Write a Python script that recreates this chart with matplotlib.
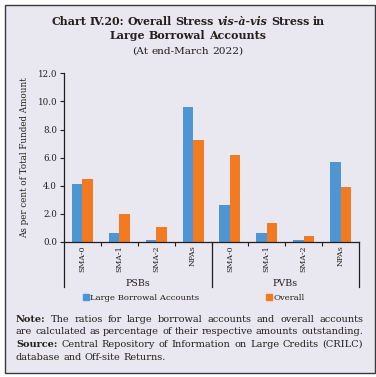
import matplotlib
matplotlib.use("Agg")
import matplotlib.pyplot as plt
from matplotlib.patches import Rectangle, Patch
from matplotlib.transforms import blended_transform_factory
import numpy as np

# data
categories = ['SMA-0', 'SMA-1', 'SMA-2', 'NPAs', 'SMA-0', 'SMA-1', 'SMA-2', 'NPAs']
groups = ['PSBs', 'PVBs']
large_borrowal = [4.12, 0.62, 0.14, 9.6, 2.6, 0.64, 0.17, 5.7]
overall = [4.5, 2.0, 1.09, 7.28, 6.2, 1.33, 0.4, 3.88]
yticks = [0, 2, 4, 6, 8, 10, 12]

blue = '#4e95d3'
orange = '#f27b21'
bg = '#e9e7ef'
ink = '#231f20'
serif = 'DejaVu Serif'

plt.rcParams['font.family'] = serif
plt.rcParams['text.color'] = ink

W, H = 376, 377
fig = plt.figure(figsize=(W / 100, H / 100), dpi=100, facecolor='white')
fig.patches.append(Rectangle((5 / W, 1 - 373 / H), 370 / W, 368 / H, transform=fig.transFigure,
                             facecolor=bg, edgecolor='#3a3a3a', linewidth=1.0, zorder=-10))

ax = fig.add_axes([64 / W, 1 - 242 / H, 295 / W, (242 - 73.3) / H])
ax.patch.set_visible(False)

x = np.arange(len(categories))
bw = 0.285
ax.bar(x - bw / 2, large_borrowal, bw, color=blue, label='Large Borrowal Accounts')
ax.bar(x + bw / 2, overall, bw, color=orange, label='Overall')

ax.set_xlim(-0.5, len(categories) - 0.5)
ax.set_ylim(0, 12)
ax.set_yticks(yticks)
ax.set_yticklabels([f'{v:.1f}' for v in yticks], fontsize=6.2, color=ink)
ax.set_xticks(x)
ax.set_xticklabels(categories, rotation=90, fontsize=5.6, color=ink)
ax.tick_params(axis='x', length=0, pad=2.5)
ax.tick_params(axis='y', length=3, width=0.8, color=ink, pad=2)
ax.set_xticks(np.arange(0.5, len(categories) - 1, 1), minor=True)
ax.tick_params(axis='x', which='minor', length=3, width=0.8, color=ink)
for s in ['top', 'right']:
    ax.spines[s].set_visible(False)
for s in ['left', 'bottom']:
    ax.spines[s].set_color(ink)
    ax.spines[s].set_linewidth(0.9)

ax.set_ylabel('As per cent of Total Funded Amount', fontsize=6.3, color=ink, labelpad=6)

# group separators and group labels below the axis
trans = blended_transform_factory(ax.transData, ax.transAxes)
for xs in [-0.5, 3.5, 7.5]:
    ax.plot([xs, xs], [0, -45 / 168.7], transform=trans, color=ink, lw=0.9, clip_on=False)
for i, g in enumerate(groups):
    ax.text(1.5 + 4 * i, -41 / 168.7, g, transform=trans, ha='center', va='center',
            fontsize=6.8, color=ink)

handles = [Patch(color=blue), Patch(color=orange)]
fig.legend(handles, ['Large Borrowal Accounts', 'Overall'], loc='center',
           bbox_to_anchor=(0.515, 1 - 297.7 / H), ncol=2, frameon=False, fontsize=6.1,
           handlelength=0.7, handleheight=0.7, handletextpad=0.2, columnspacing=7.8)

fig.canvas.draw()
renderer = fig.canvas.get_renderer()


def measure(words, size):
    ts = [fig.text(0, 0, w, fontsize=size, fontweight=wt, fontstyle=st) for w, wt, st in words]
    widths = [t.get_window_extent(renderer).width / W for t in ts]
    for t in ts:
        t.remove()
    return widths


def place_line(y, words, x0, x1=None, size=6.3, center=False):
    # words: list of (text, weight, style); spread across [x0, x1] if x1 given
    widths = measure(words, size)
    space = 0.318 * size * 100 / 72 / W
    gap = (x1 - x0 - sum(widths)) / (len(words) - 1) if x1 is not None else space
    if center:
        x0 = 0.5 - (sum(widths) + gap * (len(words) - 1)) / 2
    xx = x0
    for (w, wt, st), wd in zip(words, widths):
        fig.text(xx, y, w, fontsize=size, fontweight=wt, fontstyle=st, va='baseline', color=ink)
        xx += wd + gap


def words_of(s, weight='normal', style='normal'):
    return [(w, weight, style) for w in s.split()]


def fit_size(words, width, size=6.0):
    widths = measure(words, size)
    natural = sum(widths) + 0.318 * size * 100 / 72 / W * (len(words) - 1)
    return size * width / natural


# title
t1 = words_of('Chart IV.20: Overall Stress', 'bold') + [('vis-à-vis', 'bold', 'italic')] + words_of('Stress in', 'bold')
tsize = fit_size(t1, 276 / W)
place_line(1 - 25 / H, t1, 0, size=tsize, center=True)
place_line(1 - 39 / H, words_of('Large Borrowal Accounts', 'bold'), 0, size=tsize, center=True)
place_line(1 - 53.5 / H, words_of('(At end-March 2022)'), 0, size=tsize * 0.95, center=True)

# note and source
L, R = 16 / W, 363 / W
n1 = [('Note:', 'bold', 'normal')] + words_of('The ratios for large borrowal accounts and overall accounts')
n2 = words_of('are calculated as percentage of their respective amounts outstanding.')
n3 = [('Source:', 'bold', 'normal')] + words_of('Central Repository of Information on Large Credits (CRILC)')
n4 = words_of('database and Off-site Returns.')
nsize = fit_size(n2, R - L)
place_line(1 - 322 / H, n1, L, R, size=nsize)
place_line(1 - 334.5 / H, n2, L, R, size=nsize)
place_line(1 - 347 / H, n3, L, R, size=nsize)
place_line(1 - 359.5 / H, n4, L, size=nsize)

fig.savefig('out.png', dpi=100, facecolor='white')
